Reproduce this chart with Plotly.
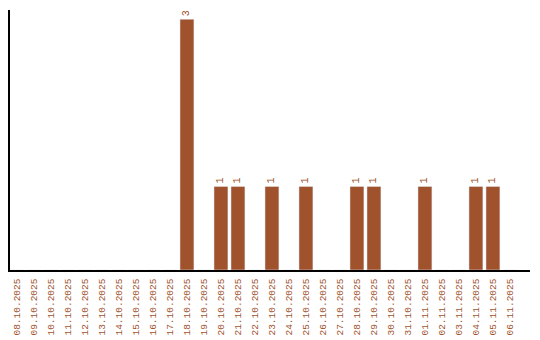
import plotly.graph_objects as go

dates = ["08.10.2025","09.10.2025","10.10.2025","11.10.2025","12.10.2025","13.10.2025",
         "14.10.2025","15.10.2025","16.10.2025","17.10.2025","18.10.2025","19.10.2025",
         "20.10.2025","21.10.2025","22.10.2025","23.10.2025","24.10.2025","25.10.2025",
         "26.10.2025","27.10.2025","28.10.2025","29.10.2025","30.10.2025","31.10.2025",
         "01.11.2025","02.11.2025","03.11.2025","04.11.2025","05.11.2025","06.11.2025"]
counts = [0,0,0,0,0,0,0,0,0,0,3,0,1,1,0,1,0,1,0,0,1,1,0,0,1,0,0,1,1,0]

color = "#A0522D"
font_family = "Liberation Mono, Courier New, monospace"
labels = [str(c) if c > 0 else "" for c in counts]

fig = go.Figure(go.Bar(
    x=dates, y=counts, marker_color=color, width=0.82,
    text=labels, textposition="outside", textangle=-90,
    textfont=dict(family=font_family, size=10, color=color),
    cliponaxis=False,
))
fig.update_layout(
    width=540, height=340,
    margin=dict(l=10, r=10, t=10, b=70, autoexpand=False),
    paper_bgcolor="white", plot_bgcolor="white",
    showlegend=False,
    font=dict(family=font_family, size=10, color=color),
    bargap=0.18,
)
fig.update_xaxes(
    type="category", range=[-0.41, 30.18], automargin=False,
    showline=True, linecolor="black", linewidth=1.5,
    showgrid=False, ticks="", tickangle=-90, ticklabelstandoff=3,
    tickfont=dict(family=font_family, size=9.5, color=color),
    fixedrange=True,
)
fig.update_yaxes(
    range=[0, 3.11], showline=True, linecolor="black", linewidth=1.5,
    showgrid=False, showticklabels=False, ticks="", zeroline=False,
    automargin=False, fixedrange=True,
)
fig.write_html("out.html")
